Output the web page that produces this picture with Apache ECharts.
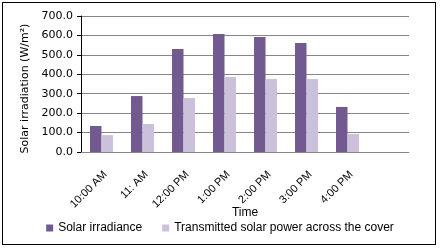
<!DOCTYPE html>
<html><head><meta charset="utf-8">
<script src="https://cdn.jsdelivr.net/npm/echarts@6/dist/echarts.min.js"></script>
<style>html,body{margin:0;padding:0;background:#fff}#c{width:440px;height:252px;}
#frame{position:absolute;left:2px;top:2px;width:434px;height:243px;border:1px solid #000;box-sizing:border-box;pointer-events:none}</style>
</head><body><div id="c"></div><div id="frame"></div>
<script>
var categories = ['10:00 AM','11: AM','12:00 PM','1:00 PM','2:00 PM','3:00 PM','4:00 PM',''];
var solarIrradiance = [134, 288, 530, 607, 592, 561, 232, null];
var transmittedPower = [87, 144, 278, 386, 376, 376, 93, null];
var yTicks = {min: 0, max: 700, interval: 100};
var chart = echarts.init(document.getElementById('c'));
chart.setOption({
  animation: false,
  textStyle: {fontFamily: 'DejaVu Sans'},
  grid: {left: 81, right: 31, top: 16, bottom: 100, containLabel: false},
  legend: {
    bottom: 13, left: 'center', itemWidth: 7, itemHeight: 7, itemGap: 20,
    icon: 'rect',
    textStyle: {fontFamily: 'Liberation Sans', fontSize: 12, color: '#000'},
    data: ['Solar irradiance', 'Transmitted solar power across the cover']
  },
  xAxis: {
    type: 'category', data: categories,
    name: 'Time', nameLocation: 'middle', nameGap: 55, nameMoveOverlap: false,
    nameTextStyle: {fontFamily: 'Liberation Sans', fontSize: 12, color: '#000'},
    axisLine: {lineStyle: {color: '#868686'}},
    axisTick: {show: false},
    axisLabel: {rotate: 45, interval: 0, fontFamily: 'Liberation Sans', fontSize: 11, color: '#000',
      margin: 17, verticalAlign: 'top', align: 'right'}
  },
  yAxis: {
    type: 'value', min: yTicks.min, max: yTicks.max, interval: yTicks.interval,
    name: 'Solar irradiation (W/m²)', nameLocation: 'middle', nameGap: 44,
    nameTextStyle: {fontFamily: 'DejaVu Sans', fontSize: 11, color: '#000', padding: [0, 9, 0, 0]},
    axisLine: {show: true, lineStyle: {color: '#000'}},
    axisTick: {show: true, length: 4, lineStyle: {color: '#000'}},
    axisLabel: {fontFamily: 'DejaVu Sans', fontSize: 11, color: '#000', margin: 8,
      formatter: function(v){return v.toFixed(1);}},
    splitLine: {lineStyle: {color: '#868686'}}
  },
  series: [
    {name: 'Solar irradiance', type: 'bar', data: solarIrradiance, barGap: '0%', barCategoryGap: '44%',
     itemStyle: {color: '#725990'}},
    {name: 'Transmitted solar power across the cover', type: 'bar', data: transmittedPower,
     itemStyle: {color: '#CCC1DA'}}
  ]
});
</script></body></html>
